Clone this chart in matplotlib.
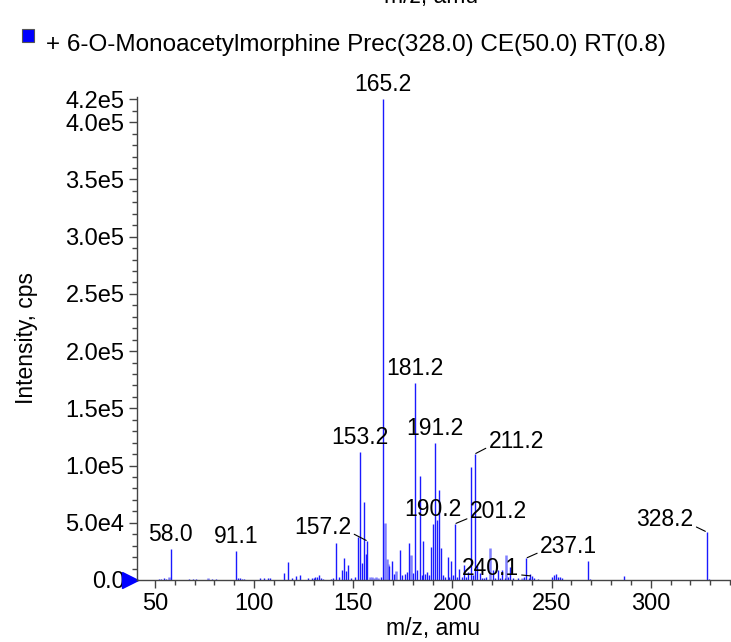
import matplotlib
matplotlib.use("Agg")
import matplotlib.pyplot as plt
from matplotlib.patches import Rectangle

plt.rcParams['font.family'] = ['Liberation Sans', 'DejaVu Sans']

# ---------------- data ----------------
legend_label = "+ 6-O-Monoacetylmorphine Prec(328.0) CE(50.0) RT(0.8)"

peak_mz = [52.0, 53.0, 54.5, 55.5, 58.0, 67.0, 69.0, 71.0, 79.0, 81.0, 83.0,
           91.1, 92.0, 93.0, 94.0, 95.0, 103.0, 105.0, 107.0, 108.0,
           115.0, 117.0, 119.0, 121.0, 123.0, 127.0, 129.0, 130.0, 131.0, 132.0,
           133.0, 134.0, 135.0, 139.0, 140.0, 141.2, 143.0, 144.5, 145.3, 146.5,
           147.5, 149.0, 151.0, 152.4, 153.2, 154.4, 155.6, 156.6, 157.2, 164.0,
           165.2, 168.3, 169.4, 170.5, 173.4, 174.5, 176.0, 177.0, 178.1, 180.2,
           181.2, 182.3, 183.5, 184.5, 185.2, 186.2, 187.2, 188.2, 189.4, 190.2,
           191.2, 192.4, 193.3, 194.3, 195.3, 196.5, 197.7, 198.5, 199.2, 200.3,
           201.2, 202.3, 203.4, 205.0, 205.9, 207.0, 207.9, 209.4, 210.4, 211.2,
           212.5, 213.8, 215.0, 216.0, 217.0, 220.5, 221.5, 223.1, 224.0, 225.2,
           226.5, 228.0, 229.2, 230.5, 233.0, 236.0, 237.1, 238.5, 239.1, 240.1,
           241.0, 243.0, 250.2, 251.2, 252.2, 253.2, 254.2, 255.2, 268.5, 269.5,
           286.7, 328.2, 329.5]
peak_int = [800, 1000, 1500, 1200, 27000, 600, 700, 500, 500, 700, 400,
            25000, 1800, 2000, 1200, 800, 1500, 2000, 1800, 1500,
            6500, 16000, 1500, 3500, 4000, 1500, 2000, 1500, 2500, 3000,
            4000, 1500, 1000, 1000, 1500, 32000, 3000, 9000, 19000, 8000,
            13000, 2000, 3000, 38000, 112000, 15000, 68000, 23000, 34000, 3000,
            420000, 12000, 17000, 5000, 26000, 4000, 5000, 7000, 32000, 6000,
            172000, 9000, 91000, 4000, 34000, 5000, 7000, 4000, 29000, 49000,
            120000, 52000, 79000, 28000, 4000, 3000, 20000, 3000, 17000, 4000,
            49000, 3000, 10000, 3000, 13000, 3000, 7000, 99000, 4000, 110000,
            13000, 6000, 2000, 2000, 2500, 9000, 2000, 9000, 2000, 9000,
            2000, 3000, 11000, 2000, 2000, 3000, 19000, 2000, 5000, 3500,
            1500, 800, 2500, 4000, 5000, 3000, 2500, 1500, 17000, 1200,
            3500, 42000, 1000]

# broader / lighter shoulder peaks
shoulder_mz = [57.0, 77.0, 158.5, 159.5, 160.5, 161.5, 162.5, 166.2, 167.0, 167.6,
               171.5, 179.1, 219.2, 227.2, 235.3]
shoulder_int = [3000, 1500, 3000, 2500, 2000, 2500, 1500, 50000, 18000, 14000,
                8000, 22000, 28000, 22000, 1500]

labels_mz = [165.2, 181.2, 153.2, 191.2, 190.2, 58.0, 91.1,
             211.2, 201.2, 237.1, 157.2, 240.1, 328.2]
labels_int = [420000, 172000, 112000, 120000, 49000, 27000, 25000,
              110000, 49000, 19000, 34000, 3500, 42000]
# label placement (offset pixels, alignment)
labels_off = [(0, 3), (0, 3), (0, 3), (0, 3), (0, 3), (0, 3), (0, 3),
              (14, 13), (15, 12), (14, 12), (-16, 14), (-13, 7), (-13, 12)]
labels_kind = ['c', 'c', 'c', 'c', 'c', 'c', 'c', 'r', 'r', 'r', 'l', 'l', 'l']

ytick_vals = [0, 50000, 100000, 150000, 200000, 250000, 300000, 350000, 400000, 420000]
ytick_labels = ['0.0', '5.0e4', '1.0e5', '1.5e5', '2.0e5', '2.5e5', '3.0e5',
                '3.5e5', '4.0e5', '4.2e5']
xtick_vals = [50, 100, 150, 200, 250, 300]

# ---------------- figure ----------------
W, H = 731, 642
fig = plt.figure(figsize=(W / 100, H / 100), dpi=100)
ax = fig.add_axes([137 / W, 1 - 580 / H, (730 - 137) / W, (580 - 97) / H])

ax.vlines(shoulder_mz, 0, shoulder_int, color='#8080ff', lw=1.8)
ax.vlines(peak_mz, 0, peak_int, color='#1a1aff', lw=1.0)

ax.set_xlim(41, 340)
ax.set_ylim(0, 422000)

for s in ['top', 'right']:
    ax.spines[s].set_visible(False)
for s in ['left', 'bottom']:
    ax.spines[s].set_color('#444444')
    ax.spines[s].set_linewidth(1.0)

ax.set_yticks(ytick_vals)
ax.set_yticklabels(ytick_labels)
ax.set_yticks(range(0, 420001, 10000), minor=True)
ax.set_xticks(xtick_vals)
ax.set_xticks(range(50, 341, 10), minor=True)
ax.tick_params(axis='both', which='major', length=6, width=1, color='#444444',
               labelsize=17, pad=3)
ax.tick_params(axis='both', which='minor', length=3.5, width=1, color='#444444')

ax.set_xlabel('m/z, amu', fontsize=16.5, labelpad=2)
ax.set_ylabel('Intensity, cps', fontsize=16.5, labelpad=20)

for mz, it, off, kind in zip(labels_mz, labels_int, labels_off, labels_kind):
    txt = f"{mz:.1f}"
    if kind == 'c':
        ax.annotate(txt, (mz, it), xytext=off, textcoords='offset pixels',
                    ha='center', va='bottom', fontsize=16.5)
    else:
        ha = 'left' if kind == 'r' else 'right'
        rel = (0, 0.25) if kind == 'r' else (1, 0.25)
        ax.annotate(txt, (mz, it), xytext=off, textcoords='offset pixels',
                    ha=ha, va='center', fontsize=16.5,
                    arrowprops=dict(arrowstyle='-', color='black', lw=0.8,
                                    shrinkA=0, shrinkB=1, relpos=rel))

# blue triangle marker at origin
ax.plot([-0.012], [0], marker='>', color='#0000ff', ms=11,
        transform=ax.get_yaxis_transform(), clip_on=False)

# clipped title at top and legend entry
fig.text(0.59, 1 - 3 / H, 'm/z, amu', ha='center', va='baseline', fontsize=16.5)
fig.patches.append(Rectangle((22 / W, 1 - 42 / H), 12 / W, 13 / H,
                             transform=fig.transFigure, facecolor='#0000ff',
                             edgecolor='#555555', lw=0.8))
fig.text(46 / W, 1 - 45 / H, legend_label, ha='left', va='center', fontsize=17.5)

fig.savefig('out.png', dpi=100)
